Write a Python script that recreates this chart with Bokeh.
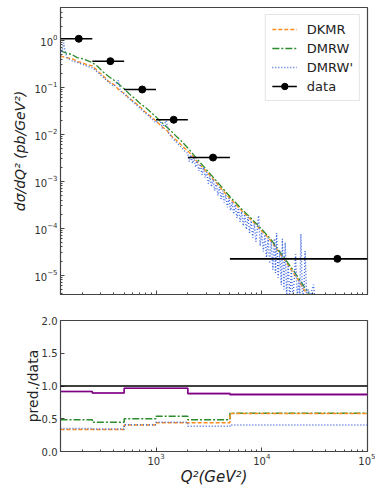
from bokeh.plotting import figure
from bokeh.layouts import column
from bokeh.models import (FixedTicker, LogTickFormatter, CustomJSTickFormatter,
                          PrintfTickFormatter, Span, Range1d)
from bokeh.embed import file_html
from bokeh.resources import INLINE

# ---------------- data ----------------
bin_edges = [125, 250, 500, 1000, 2000, 5000, 100000]
data_q2 = [186, 370, 741, 1470, 3460, 51900]
data_xsec = [1.08, 0.36, 0.090, 0.0204, 0.0032, 2.24e-5]

q2_grid = [125, 140, 160, 180, 200, 225, 250, 280, 315, 355, 400, 450, 500, 560,
           630, 710, 800, 900, 1000, 1120, 1260, 1410, 1580, 1780, 2000, 2240,
           2510, 2820, 3160, 3550, 3980, 4470, 5010, 5620, 6310, 7080, 7940, 8910,
           10000, 11200, 12600, 14100, 15800, 17800, 20000, 22400, 25100, 28200]
dkmr = [0.468, 0.43, 0.41, 0.355, 0.335, 0.30, 0.285, 0.225, 0.178, 0.135, 0.115,
        0.086, 0.075, 0.058, 0.048, 0.038, 0.029, 0.0238, 0.0192, 0.0150, 0.0122,
        0.0091, 0.0073, 0.0056, 0.0044, 0.0034, 0.0024, 0.00188, 0.00141, 0.00105,
        0.00078, 0.00057, 0.00043, 0.00033, 0.00025, 0.000195, 0.000150, 0.000116,
        8.7e-5, 6.8e-5, 4.9e-5, 3.4e-5, 2.4e-5, 1.65e-5, 1.1e-5, 7.6e-6, 5.0e-6, 3.4e-6]
dmrw = [0.60, 0.54, 0.50, 0.43, 0.41, 0.37, 0.335, 0.28, 0.215, 0.172, 0.142, 0.114,
        0.093, 0.072, 0.058, 0.045, 0.037, 0.029, 0.0235, 0.0182, 0.0145, 0.0113,
        0.0088, 0.0068, 0.0051, 0.0038, 0.0028, 0.00208, 0.00155, 0.00116, 0.00086,
        0.00063, 0.00047, 0.00036, 0.00027, 0.00021, 0.000163, 0.000125, 9.5e-5,
        7.2e-5, 5.3e-5, 3.7e-5, 2.6e-5, 1.8e-5, 1.25e-5, 8.5e-6, 5.8e-6, 4.0e-6]

q2_blue = [125, 130, 134, 138, 145, 160, 180, 200, 225, 250, 280, 315, 355, 400, 440,
           460, 500, 560, 630, 710, 800, 900, 1000, 1080, 1150, 1250, 1320, 1410,
           1580, 1780, 1900,
           1995, 2065, 2138, 2213, 2291, 2371, 2455, 2541, 2630, 2723, 2818, 2917,
           3020, 3126, 3236, 3350, 3467, 3589, 3715, 3846, 3981, 4121, 4266, 4416,
           4571, 4732, 4898, 5070, 5248, 5433, 5623, 5821, 6026, 6237, 6457, 6683,
           6918, 7161, 7413, 7674, 7943, 8222, 8511, 8810, 9120, 9333, 9661, 10000,
           10351, 10715, 11092, 11482, 11885, 12303, 12735, 13183, 13490, 13804,
           14289, 14791, 15311, 15668, 16218, 16672, 17179, 17783, 18408, 19055,
           19724, 20417, 20893, 21627, 22387, 22909, 23442, 24266, 25119, 25704,
           26607, 27542, 28510, 29512, 30903, 31623]
dmrw_prime = [0.42, 0.62, 0.88, 0.60, 0.42, 0.37, 0.34, 0.31, 0.28, 0.26, 0.21, 0.165,
              0.13, 0.105, 0.14, 0.085, 0.072, 0.057, 0.045, 0.035, 0.028, 0.022,
              0.0175, 0.022, 0.0135, 0.0195, 0.0105, 0.0085, 0.0066, 0.0050, 0.0042,
              3.98e-3, 2.63e-3, 3.63e-3, 2.40e-3, 3.16e-3, 2.00e-3, 2.75e-3, 1.66e-3,
              2.34e-3, 1.38e-3, 2.00e-3, 1.20e-3, 1.58e-3, 8.9e-4, 1.32e-3, 7.6e-4,
              1.12e-3, 6.3e-4, 9.3e-4, 5.0e-4, 7.6e-4, 4.2e-4, 6.3e-4, 3.5e-4, 5.2e-4,
              2.8e-4, 4.4e-4, 2.4e-4, 3.7e-4, 2.0e-4, 3.2e-4, 1.66e-4, 2.7e-4, 1.38e-4,
              2.3e-4, 1.12e-4, 2.0e-4, 9.5e-5, 1.74e-4, 7.9e-5, 1.45e-4, 6.3e-5,
              1.26e-4, 5.2e-5, 1.07e-4, 1.86e-4, 4.2e-5, 8.3e-5, 3.2e-5, 7.4e-5,
              2.4e-5, 6.3e-5, 1.78e-5, 5.2e-5, 1.32e-5, 6.0e-5, 1.12e-5, 7.9e-5,
              8.9e-6, 3.2e-5, 6.3e-6, 6.0e-5, 5.0e-6, 5.0e-5, 3.5e-6, 1.66e-5, 3.2e-6,
              1.26e-5, 3.2e-6, 1.0e-5, 2.8e-5, 3.2e-6, 7.9e-6, 3.2e-6, 7.6e-5, 3.2e-6,
              5.6e-6, 3.3e-5, 3.2e-6, 5.0e-6, 3.2e-6, 4.5e-6, 6.3e-6, 3.2e-6]

ratio_dkmr = [0.335, 0.335, 0.405, 0.44, 0.44, 0.58]
ratio_dmrw = [0.485, 0.445, 0.50, 0.54, 0.485, 0.585]
ratio_dmrw_prime = [0.35, 0.345, 0.41, 0.445, 0.385, 0.405]
ratio_purple_dark = [0.915, 0.895, 0.965, 0.965, 0.88, 0.875]
ratio_purple_light = [0.915, 0.895, 0.965, 0.965, 0.895, 0.86]

ratio_ticks = [0.0, 0.5, 1.0, 1.5, 2.0]

# ---------------- styling helpers ----------------
FONT = "DejaVu Sans"
FRAME = "#444444"
C_ORANGE = "#ff8c1a"
C_GREEN = "#2a8c2a"
C_BLUE = "#4169e1"

x_major = [100, 1000, 10000, 100000]
x_minor = [m * d for d in (100, 1000, 10000) for m in range(2, 10)]
y_major = [10.0 ** k for k in range(-5, 1)]
y_minor = [m * 10.0 ** k for k in range(-6, 1) for m in range(2, 10)]


def style_axis(ax):
    ax.axis_line_color = FRAME
    ax.major_tick_in = 4
    ax.major_tick_out = 0
    ax.minor_tick_in = 2
    ax.minor_tick_out = 0
    ax.major_tick_line_color = FRAME
    ax.minor_tick_line_color = FRAME
    ax.major_label_text_font = FONT
    ax.major_label_text_font_size = "10px"
    ax.major_label_text_color = "#333333"
    ax.major_label_standoff = 3
    ax.axis_label_text_font = FONT
    ax.axis_label_text_color = "#222222"
    ax.axis_label_standoff = 3


xr = Range1d(125, 1e5)

# ---------------- top panel ----------------
p1 = figure(width=375, height=302, x_axis_type="log", y_axis_type="log",
            x_range=xr, y_range=Range1d(3.9e-6, 5.0),
            output_backend="svg", toolbar_location=None,
            min_border_left=60, min_border_right=8, min_border_top=7,
            min_border_bottom=8)
p1.xgrid.visible = False
p1.ygrid.visible = False
p1.outline_line_color = FRAME
p1.outline_line_width = 1.2

p1.line(q2_grid, dkmr, line_color=C_ORANGE, line_dash="4 2", line_width=1.3,
        legend_label="DKMR")
p1.line(q2_grid, dmrw, line_color=C_GREEN, line_dash="7 2 2 2", line_width=1.3,
        legend_label="DMRW")
p1.line(q2_blue, dmrw_prime, line_color=C_BLUE, line_dash="1 2", line_width=1.4,
        legend_label="DMRW'")

lo = bin_edges[:-1]
hi = bin_edges[1:]
p1.segment(x0=lo, y0=data_xsec, x1=hi, y1=data_xsec, line_color="black",
           line_width=1.6, legend_label="data")
p1.scatter(data_q2, data_xsec, size=7, color="black", legend_label="data")

p1.xaxis.ticker = FixedTicker(ticks=x_major, minor_ticks=x_minor)
p1.xaxis.formatter = CustomJSTickFormatter(code="return ''")
p1.yaxis.ticker = FixedTicker(ticks=y_major, minor_ticks=y_minor)
p1.yaxis.formatter = LogTickFormatter()
style_axis(p1.xaxis[0])
style_axis(p1.yaxis[0])
p1.yaxis.axis_label = "dσ/dQ² (pb/GeV²)"
p1.yaxis.axis_label_text_font_size = "14px"
p1.yaxis.axis_label_text_font_style = "italic"

lg = p1.legend[0]
lg.location = "top_right"
lg.margin = 7
lg.padding = 6
lg.spacing = 3
lg.glyph_width = 25
lg.glyph_height = 16
lg.label_height = 16
lg.label_standoff = 10
lg.label_text_font = FONT
lg.label_text_font_size = "13px"
lg.label_text_color = "#222222"
lg.border_line_color = "#cccccc"
lg.background_fill_alpha = 0.85

# ---------------- bottom panel ----------------
p2 = figure(width=375, height=188, x_axis_type="log", x_range=xr,
            y_range=Range1d(0, 2),
            output_backend="svg", toolbar_location=None,
            min_border_left=60, min_border_right=8, min_border_top=18,
            min_border_bottom=39)
p2.xgrid.visible = False
p2.ygrid.visible = False
p2.outline_line_color = FRAME
p2.outline_line_width = 1.2

p2.add_layout(Span(location=1.0, dimension="width", line_color="black",
                   line_width=1.5))


def steps(vals):
    return list(vals) + [vals[-1]]


p2.step(bin_edges, steps(ratio_purple_light), mode="after", line_color="#a64dbf",
        line_alpha=0.7, line_width=1.5)
p2.step(bin_edges, steps(ratio_purple_dark), mode="after", line_color="#800080",
        line_width=1.5)
p2.step(bin_edges, steps(ratio_dmrw), mode="after", line_color=C_GREEN,
        line_dash="7 2 2 2", line_width=1.5)
p2.step(bin_edges, steps(ratio_dkmr), mode="after", line_color=C_ORANGE,
        line_dash="4 2", line_width=1.5)
p2.step(bin_edges, steps(ratio_dmrw_prime), mode="after", line_color=C_BLUE,
        line_dash="1 2", line_width=1.5)

p2.xaxis.ticker = FixedTicker(ticks=x_major, minor_ticks=x_minor)
p2.xaxis.formatter = LogTickFormatter()
p2.yaxis.ticker = FixedTicker(ticks=ratio_ticks)
p2.yaxis.formatter = PrintfTickFormatter(format="%.1f")
style_axis(p2.xaxis[0])
style_axis(p2.yaxis[0])
p2.xaxis.major_label_standoff = 1
p2.xaxis.axis_label = "Q²(GeV²)"
p2.xaxis.axis_label_text_font_size = "15px"
p2.xaxis.axis_label_text_font_style = "italic"
p2.xaxis.axis_label_standoff = 0
p2.yaxis.axis_label = "pred./data"
p2.yaxis.axis_label_text_font_size = "14px"
p2.yaxis.axis_label_text_font_style = "normal"
p2.yaxis.axis_label_standoff = -2

layout = column(p1, p2, spacing=0)

with open("out.html", "w") as f:
    f.write(file_html(layout, INLINE))
